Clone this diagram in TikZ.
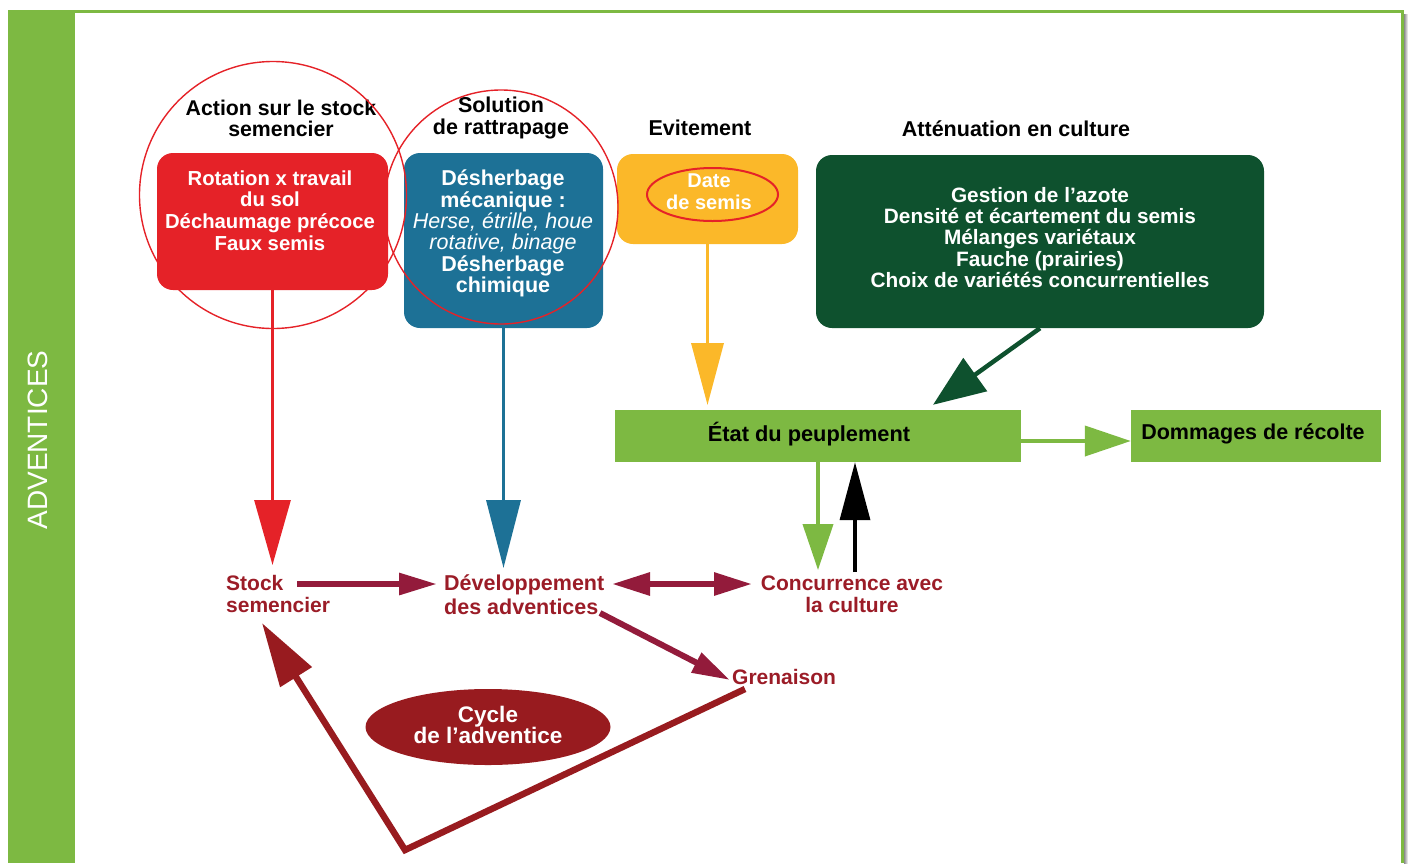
\documentclass[tikz,border=0pt]{standalone}
\usepackage{fontspec}
\setmainfont{Liberation Sans}
\usetikzlibrary{arrows.meta,shapes.geometric,calc}

\definecolor{bandgreen}{RGB}{125,185,66}
\definecolor{cred}{RGB}{229,34,40}
\definecolor{cblue}{RGB}{29,113,150}
\definecolor{corange}{RGB}{251,184,41}
\definecolor{cdkgreen}{RGB}{14,81,46}
\definecolor{cmaroon}{RGB}{147,27,59}
\definecolor{clabel}{RGB}{155,28,39}
\definecolor{ccycle}{RGB}{152,27,31}

\newcommand{\setfs}[2]{\fontsize{#1}{#2}\selectfont}

\begin{document}
\begin{tikzpicture}[x=1pt,y=-1pt,
  panel/.style={rectangle, rounded corners=16pt, inner sep=0pt},
  flatbox/.style={rectangle, inner sep=0pt, fill=bandgreen},
  txt/.style={inner sep=0pt, align=center},
  ring/.style={circle, draw=cred, line width=1.4pt, inner sep=0pt},
  lab/.style={inner sep=0pt, text=clabel, font={\bfseries\setfs{21}{22}}},
  redarrow/.style={draw=cred, line width=3pt, -{Triangle[length=65pt,width=36pt]}},
  bluearrow/.style={draw=cblue, line width=3.5pt, -{Triangle[length=68pt,width=34pt]}},
  orangearrow/.style={draw=corange, line width=3.5pt, -{Triangle[length=62pt,width=32pt]}},
  dkgreenarrow/.style={draw=cdkgreen, line width=4.5pt, -{Triangle[length=52pt,width=40pt]}},
  ltgreenarrow/.style={draw=bandgreen, line width=4pt, -{Triangle[length=46pt,width=30pt]}},
  blackarrow/.style={draw=black, line width=3.5pt, -{Triangle[length=58pt,width=30pt]}},
  cyclearrow/.style={draw=cmaroon, line width=6pt, -{Triangle[length=38pt,width=21pt]}},
  cyclearrows/.style={draw=cmaroon, line width=6pt, {Triangle[length=38pt,width=22pt]}-{Triangle[length=38pt,width=22pt]}},
  returnarrow/.style={draw=ccycle, line width=6.5pt, -{Triangle[length=64pt,width=36pt]}}
]
\useasboundingbox (0,0) rectangle (1408,863);

% frame and side band
\fill[bandgreen] (8,10) rectangle (75,863);
\fill[bandgreen] (8,10) rectangle (1404,13);
\fill[bandgreen] (1401,10) rectangle (1404,863);
\shade[left color=black!45, right color=white] (1404,14) rectangle (1408,863);
\node[rotate=90, text=white, inner sep=0pt, font={\setfs{28}{30}}] (band) at (38,440) {ADVENTICES};

% column headings
\node[txt, font={\bfseries\setfs{21.3}{21.5}}] (h1) at (281,118.5) {Action sur le stock\\semencier};
\node[txt, font={\bfseries\setfs{21.5}{22}}] (h2) at (501,118) {Solution\\de rattrapage};
\node[txt, font={\bfseries\setfs{21.5}{22}}] (h3) at (700,128) {Evitement};
\node[txt, font={\bfseries\setfs{21.5}{22}}] (h4) at (1016,129) {Atténuation en culture};

% lever boxes
\node[panel, fill=cred, minimum width=231pt, minimum height=137pt] (rot) at (272.5,221.5) {};
\node[txt, text=white, font={\bfseries\setfs{20.3}{21.6}}] (rottxt) at (270,210.5)
  {Rotation x travail\\du sol\\Déchaumage précoce\\Faux semis};

\node[panel, fill=cblue, minimum width=199pt, minimum height=175pt] (des) at (503.5,240.5) {};
\node[txt, text=white, font={\bfseries\setfs{21.5}{21.4}}] (destxt) at (503,233.5)
  {Désherbage\\mécanique :\\{\mdseries\itshape Herse, étrille, houe}\\{\mdseries\itshape rotative, binage}\\Désherbage\\chimique};

\node[panel, fill=corange, minimum width=181pt, minimum height=90pt] (date) at (707.5,199) {};
\node[txt, text=white, font={\bfseries\setfs{20}{22}}] (datetxt) at (709,192) {Date\\de semis};

\node[panel, fill=cdkgreen, minimum width=448pt, minimum height=173pt] (att) at (1040,241.5) {};
\node[txt, text=white, font={\bfseries\setfs{20.8}{21.3}}] (atttxt) at (1040,237.5)
  {Gestion de l’azote\\Densité et écartement du semis\\Mélanges variétaux\\Fauche (prairies)\\Choix de variétés concurrentielles};

% red highlight rings
\node[ring, minimum size=267pt] (ring1) at (273,195) {};
\node[ring, minimum size=234pt] (ring2) at (501,207) {};
\node[ellipse, draw=cred, line width=2pt, inner sep=0pt, minimum width=131pt, minimum height=53pt] (ring3) at (712.5,194.5) {};

% crop state and yield
\node[flatbox, minimum width=406pt, minimum height=52pt] (etat) at (818,436) {};
\node[txt, font={\bfseries\setfs{21.8}{22}}] (etattxt) at (809,434) {État du peuplement};
\node[flatbox, minimum width=250pt, minimum height=52pt] (dom) at (1256,436) {};
\node[txt, font={\bfseries\setfs{21.5}{22}}] (domtxt) at (1253,434) {Dommages de récolte};

% weed cycle labels
\node[lab, anchor=west, align=left] (stock) at (226,594) {Stock\\semencier};
\node[lab, anchor=west, align=left, font={\bfseries\setfs{21.5}{24}}] (dev) at (444,595) {Développement\\des adventices};
\node[lab, align=center] (conc) at (852,594) {Concurrence avec\\la culture};
\node[lab, anchor=west] (gren) at (732,677) {Grenaison};
\node[ellipse, fill=ccycle, inner sep=0pt, minimum width=245pt, minimum height=76pt] (cycle) at (488,727) {};
\node[txt, text=white, font={\bfseries\setfs{22.5}{21}}] (cycletxt) at (488,725) {Cycle\\de l’adventice};
\coordinate (turn) at (405,850);

% lever arrows
\draw[redarrow] (rot.south) -- (rot.south |- 0,565);
\draw[bluearrow] (des.south) -- (des.south |- 0,568);
\draw[orangearrow] (date.south) -- (date.south |- 0,405);
\draw[dkgreenarrow] (att.south) -- ($(etat.north)+(115,-5)$);
\draw[ltgreenarrow] ($(etat.east)+(0,5)$) -- ($(dom.west)+(0,5)$);
\draw[ltgreenarrow] (etat.south) -- (etat.south |- 0,570);
\draw[blackarrow] ($(conc.center)+(3,-22)$) -- ($(etat.south)+(37,0)$);

% weed cycle arrows
\draw[cyclearrow] ($(stock.west)+(71,-10)$) -- ($(dev.west)+(-7,-11)$);
\draw[cyclearrows] ($(dev.west)+(168,-11)$) -- ($(conc.center)+(-100,-10)$);
\draw[cyclearrow] ($(dev.west)+(156,18)$) -- ($(gren.west)+(-2,3)$);
\draw[returnarrow] ($(gren.west)+(13,12)$) -- (turn) -- ($(stock.west)+(36,29)$);
\end{tikzpicture}
\end{document}
